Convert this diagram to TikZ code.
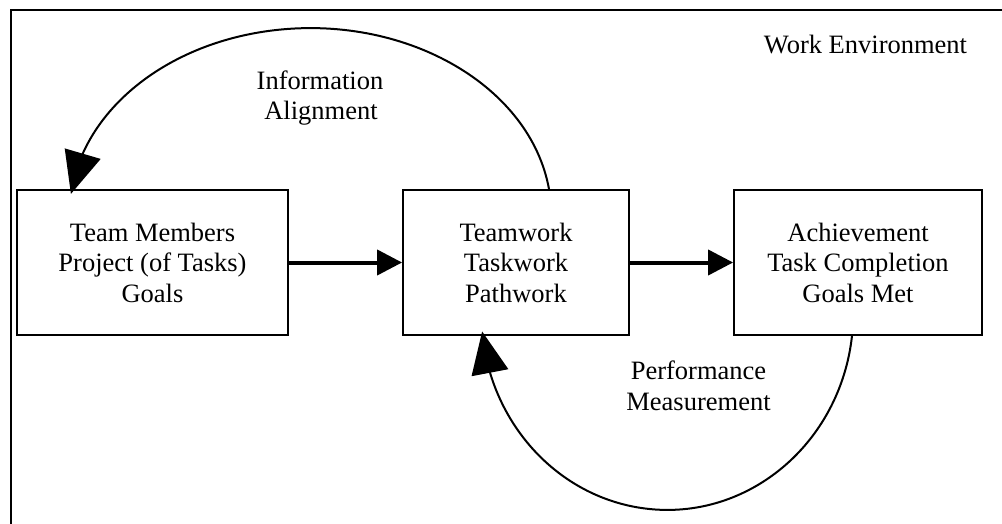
\documentclass[tikz,border=0pt]{standalone}
\usepackage{fontspec}
\setmainfont{Liberation Serif}
\usetikzlibrary{arrows.meta,bending}

\begin{document}
\begin{tikzpicture}[x=1pt,y=1pt,
  txt/.style={font=\fontsize{26.5}{30.5}\selectfont, align=center, inner sep=0pt},
  stage/.style={txt, draw, line width=1.8pt, minimum height=145pt},
  flow/.style={line width=4pt, -{Triangle[length=25pt,width=25pt]}},
  loop/.style={line width=2pt, -{Triangle[length=42pt,width=37pt,flex]}},
  frame/.style={line width=2.4pt}]
\useasboundingbox (0,0) rectangle (1002,-524);

% surrounding environment frame (open to the right and bottom)
\draw[frame] (11,-526) -- (11,-10) -- (1004,-10);
\node[txt, anchor=base] (env) at (865.5,-54) {Work Environment};

% the three stages
\node[stage, minimum width=271pt] (b1) at (152.5,-262.5) {Team Members\\Project (of Tasks)\\Goals};
\node[stage, minimum width=226pt] (b2) at (516,-262.5) {Teamwork\\Taskwork\\Pathwork};
\node[stage, minimum width=248pt] (b3) at (858,-262.5) {Achievement\\Task Completion\\Goals Met};

% forward flow
\draw[flow] (b1.east) -- (b2.west);
\draw[flow] (b2.east) -- (b3.west);

% feedback loops
\draw[loop] ([xshift=33pt]b2.north)
  arc[start angle=8, end angle=173.5, x radius=241pt, y radius=187pt];
\draw[loop] ([xshift=-6pt]b3.south)
  arc[start angle=-6.7, end angle=-174.6, x radius=186pt, y radius=197pt];

% loop labels
\node[txt, anchor=base] (info1) at (320,-90) {Information};
\node[txt, anchor=base] (info2) at (321,-120) {Alignment};
\node[txt, anchor=base] (perf1) at (698.5,-379) {Performance};
\node[txt, anchor=base] (perf2) at (698.5,-410) {Measurement};
\end{tikzpicture}
\end{document}
